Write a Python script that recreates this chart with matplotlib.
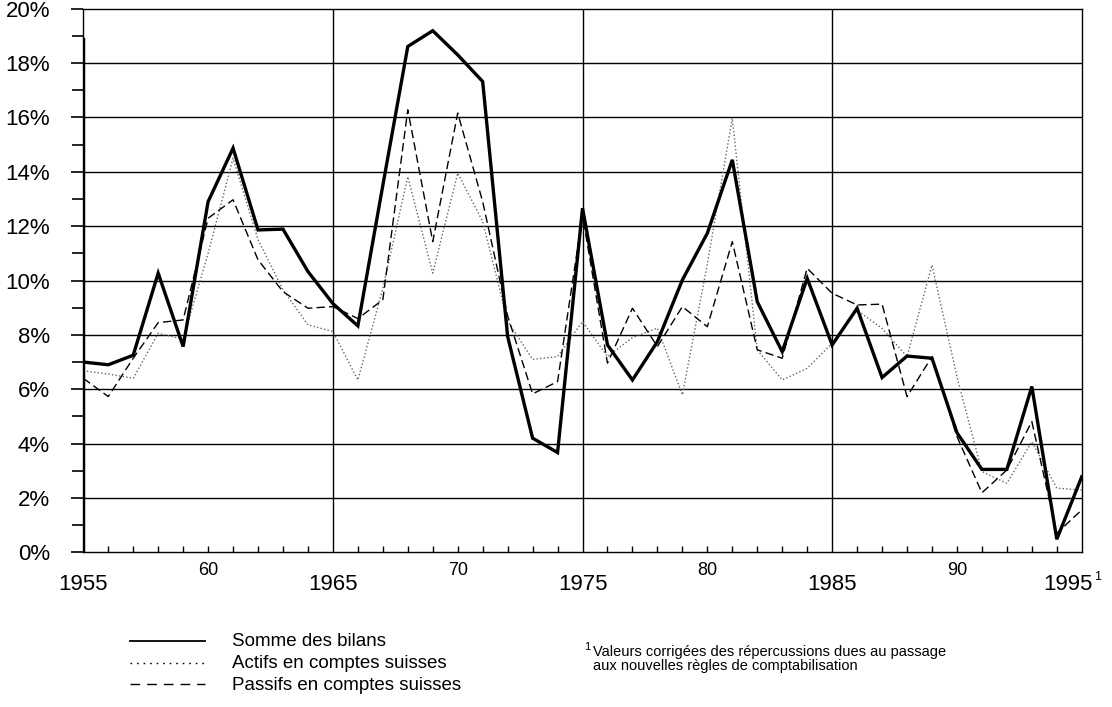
import numpy as np
import matplotlib
matplotlib.use("Agg")
import matplotlib.pyplot as plt
from matplotlib.lines import Line2D

plt.rcParams['font.family'] = ['Liberation Sans', 'DejaVu Sans']

# années 1955 - 1995
years = list(range(1955, 1996))

# Somme des bilans (trait gras)
somme = [7.0, 6.9, 7.25, 10.27, 7.57, 12.9, 14.87, 11.86, 11.89, 10.33,
         9.15, 8.33, 13.5, 18.61, 19.19, 18.3, 17.32, 7.94, 4.2, 3.67,
         12.66, 7.63, 6.34, 7.75, 10.02, 11.74, 14.44, 9.22, 7.38, 10.08,
         7.63, 8.98, 6.43, 7.22, 7.14, 4.4, 3.05, 3.05, 6.1, 0.48, 2.78]

# Actifs en comptes suisses (pointillé)
actifs = [6.68, 6.56, 6.4, 8.06, 7.84, 11.0, 14.5, 11.5, 9.66, 8.37,
          8.12, 6.34, 9.7, 13.82, 10.27, 13.95, 12.17, 8.5, 7.1, 7.2,
          8.49, 7.2, 7.9, 8.25, 5.79, 10.6, 15.97, 7.45, 6.34, 6.77,
          7.69, 8.9, 8.24, 7.2, 10.57, 6.46, 2.97, 2.54, 4.07, 2.36, 2.29]

# Passifs en comptes suisses (tirets)
passifs = [6.4, 5.73, 7.14, 8.45, 8.55, 12.29, 12.97, 10.76, 9.59, 8.98,
           9.04, 8.6, 9.29, 16.28, 11.43, 16.16, 12.9, 8.7, 5.83, 6.28,
           12.4, 6.96, 8.98, 7.57, 9.04, 8.3, 11.43, 7.45, 7.14, 10.45,
           9.53, 9.1, 9.13, 5.73, 7.2, 4.26, 2.19, 3.03, 4.81, 0.7, 1.56]

y_ticks = [0, 2, 4, 6, 8, 10, 12, 14, 16, 18, 20]
y_labels = [f"{v}%" for v in y_ticks]
decennies = [1960, 1970, 1980, 1990]
dec_labels = ["60", "70", "80", "90"]
annees_lab = [1955, 1965, 1975, 1985, 1995]
separateurs = [1965, 1975, 1985]

legend_labels = ["Somme des bilans", "Actifs en comptes suisses",
                 "Passifs en comptes suisses"]
note = ("Valeurs corrigées des répercussions dues au passage\n"
        "aux nouvelles règles de comptabilisation")

fig = plt.figure(figsize=(11.12, 7.07), dpi=100)
ax = fig.add_axes([0.0749, 0.2188, 0.8979, 0.7689])

# grille
for v in y_ticks[1:-1]:
    ax.axhline(v, color='black', lw=1.0, zorder=1)
for x in separateurs:
    ax.axvline(x, color='black', lw=1.0, zorder=1)

ax.plot(years, actifs, color='#666666', lw=1.0, ls=(0, (1, 1.6)), zorder=3)
ax.plot(years, passifs, color='black', lw=1.0, ls=(0, (6, 3)), zorder=3)
ax.plot(years, somme, color='black', lw=2.4, zorder=4, solid_joinstyle='miter')

# trait gras de l'axe gauche (scan d'origine)
ax.axvline(1955, ymin=0, ymax=18.9 / 20, color='black', lw=2.5, zorder=5)

ax.set_xlim(1955, 1995)
ax.set_ylim(0, 20)
for s in ax.spines.values():
    s.set_linewidth(1.0)

ax.set_yticks(y_ticks)
ax.set_yticklabels(y_labels, fontsize=16)
ax.set_yticks(range(1, 20, 2), minor=True)
ax.tick_params(axis='y', which='major', direction='out', length=9, width=1.2, pad=15)
ax.tick_params(axis='y', which='minor', direction='out', length=8, width=1.2)

ax.set_xticks([y for y in years if y not in annees_lab])
ax.set_xticklabels([])
ax.tick_params(axis='x', which='major', direction='in', length=4, width=1.0)

trans = ax.get_xaxis_transform()
for y in annees_lab:
    xpos = y - 0.55 if y == 1995 else y
    ax.text(xpos, -0.06, str(y), transform=trans, ha='center', va='center', fontsize=16)
ax.text(1995.5, -0.045, "1", transform=trans, ha='left', va='center', fontsize=9)
for d, lab in zip(decennies, dec_labels):
    ax.text(d, -0.033, lab, transform=trans, ha='center', va='center', fontsize=13)

# légende manuelle
styles = [dict(color='black', lw=1.3),
          dict(color='black', lw=1.0, ls=(0, (1.2, 3.5))),
          dict(color='black', lw=1.0, ls=(0, (7, 5)))]
rows_y = [641, 663, 684]
W, H = 1112, 707
for st, lab, yy in zip(styles, legend_labels, rows_y):
    fig.add_artist(Line2D([130 / W, 205 / W], [1 - yy / H, 1 - yy / H], **st))
    fig.text(232 / W, 1 - (yy + 1) / H, lab, fontsize=13.5, va='center', ha='left')

fig.text(584 / W, 1 - 647 / H, "1", fontsize=8, va='center', ha='left')
fig.text(593 / W, 1 - 659 / H, note, fontsize=10.5, va='center', ha='left',
         linespacing=0.95)

fig.savefig("out.png", dpi=100)
